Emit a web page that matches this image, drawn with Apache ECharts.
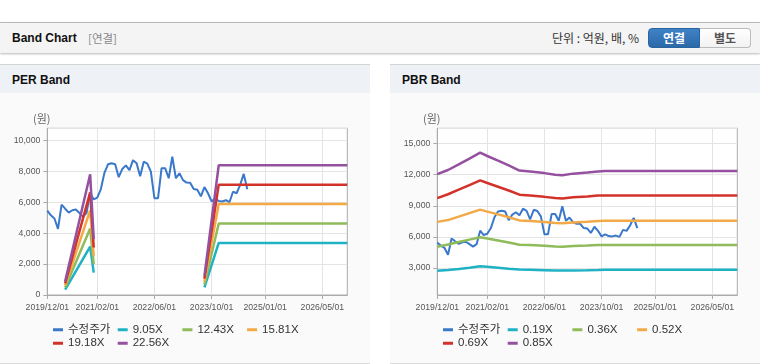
<!DOCTYPE html>
<html><head><meta charset="utf-8">
<script src="https://cdn.jsdelivr.net/npm/echarts@6/dist/echarts.min.js"></script>
<style>
html,body{margin:0;padding:0}
body{width:760px;height:364px;overflow:hidden;background:#fff;position:relative;font-family:'Liberation Sans','Noto Sans CJK KR',sans-serif}
.hdr{position:absolute;left:0;top:22px;width:760px;height:30px;background:#f4f4f4;border-top:1px solid #b8b8b8;box-shadow:0 1px 2px rgba(0,0,0,0.28)}
.t1{position:absolute;left:12px;top:8px;font-size:12px;font-weight:bold;color:#111;line-height:14px}
.t2{position:absolute;left:88px;top:8px;font-size:11.5px;color:#888;line-height:14px;font-family:'Noto Sans CJK KR',sans-serif}
.unit{position:absolute;left:552px;top:8px;font-size:12px;color:#333;line-height:14px;font-family:'Noto Sans CJK KR',sans-serif}
.btn{position:absolute;top:5px;height:18px;line-height:18px;text-align:center;font-size:12px;font-weight:bold;font-family:'Noto Sans CJK KR',sans-serif}
.b1{left:648px;width:52px;background:linear-gradient(#3f82c6,#2c69a9);color:#fff;border:1px solid #2a64a0;border-radius:4px 0 0 4px;box-sizing:border-box;height:20px}
.b2{left:700px;width:51px;background:linear-gradient(#fff,#f2f2f2);color:#555;border:1px solid #bbb;border-left:none;border-radius:0 4px 4px 0;box-sizing:border-box;height:20px}
.panel{position:absolute;top:64px;height:298px;background:#fafafa;border-top:1px solid #d4d4d4;border-bottom:1px solid #dcdcdc}
.ph{position:absolute;left:0;top:0;right:0;height:28px;background:#eef2f7}
.pt{position:absolute;left:12px;top:8px;font-size:12px;font-weight:bold;color:#111;line-height:14px}
#chart{position:absolute;left:0;top:0;width:760px;height:364px}
</style></head>
<body>
<div class="hdr">
  <span class="t1">Band Chart</span><span class="t2">[연결]</span>
  <span class="unit">단위 : 억원, 배, %</span>
  <div class="btn b1">연결</div><div class="btn b2">별도</div>
</div>
<div class="panel" style="left:0;width:370px"><div class="ph"><span class="pt">PER Band</span></div></div>
<div class="panel" style="left:390px;width:370px"><div class="ph"><span class="pt">PBR Band</span></div></div>
<div id="chart"></div>
<script>
// ---------- data ----------
// monthly category axis: 2019/12/01 .. 2026/12/01
const months = [];
for (let k = 0; k < 85; k++) {
  const t = 2019 * 12 + 11 + k;
  const y = Math.floor(t / 12), m = t % 12 + 1;
  months.push(y + '/' + String(m).padStart(2, '0') + '/01');
}
const labelMonths = ['2019/12/01','2021/02/01','2022/06/01','2023/10/01','2025/01/01','2026/05/01'];

// adjusted share price (수정주가), monthly from 2019/12 to 2024/08
const price = [5450,5150,4950,4280,5850,5580,5330,5480,5530,5300,5070,5300,6600,6180,6300,6850,7900,8450,8520,8450,
  7620,8150,8380,8080,8720,8520,7680,8620,8500,7980,6250,6250,8200,8200,7550,8950,7550,7870,7430,7270,
  7260,6850,6800,6380,6980,6580,6050,6250,6080,6050,6130,6000,6680,6580,7120,7830,6840];

// PER band series ([month, value]; null breaks the line)
const perNames = ['9.05X','12.43X','15.81X','19.18X','22.56X'];
const per905  = [['2020/05/01',353],['2020/12/01',3131],['2021/01/01',1448],['2021/02/01',null],['2023/08/01',500],['2023/12/01',3367],['2026/12/01',3367]];
const per1243 = [['2020/05/01',485],['2020/12/01',4300],['2021/01/01',1990],['2021/02/01',null],['2023/08/01',684],['2023/12/01',4624],['2026/12/01',4624]];
const per1581 = [['2020/05/01',617],['2020/12/01',5470],['2021/01/01',2530],['2021/02/01',null],['2023/08/01',870],['2023/12/01',5881],['2026/12/01',5881]];
const per1918 = [['2020/05/01',748],['2020/12/01',6636],['2021/01/01',3070],['2021/02/01',null],['2023/08/01',1055],['2023/12/01',7135],['2026/12/01',7135]];
const per2256 = [['2020/05/01',880],['2020/12/01',7806],['2021/01/01',3610],['2021/02/01',null],['2023/08/01',1240],['2023/12/01',8392],['2026/12/01',8392]];

// PBR band series, values at key months
const pbrNames = ['0.19X','0.36X','0.52X','0.69X','0.85X'];
const pbrMonths = ['2019/12/01','2020/03/01','2020/06/01','2020/09/01','2020/12/01','2021/02/01','2021/05/01','2021/08/01','2021/11/01','2022/02/01','2022/06/01','2022/09/01','2022/11/01','2023/02/01','2023/06/01','2023/09/01','2023/11/01','2026/12/01'];
const pbr019 = [2740,2800,2910,3030,3180,3120,3030,2940,2860,2830,2790,2760,2750,2770,2790,2810,2840,2840];
const pbr036 = [5060,5270,5510,5740,5970,5840,5650,5460,5250,5210,5150,5080,5060,5120,5170,5210,5230,5230];
const pbr052 = [7450,7620,7950,8290,8630,8440,8170,7890,7590,7530,7430,7340,7310,7400,7460,7530,7560,7560];
const pbr069 = [9740,10110,10550,11000,11450,11200,10840,10470,10070,9990,9860,9740,9700,9820,9900,9990,10000,10000];
const pbr085 = [12050,12450,13000,13550,14120,13800,13350,12900,12400,12300,12150,12000,11950,12100,12200,12300,12360,12360];

// ---------- chart ----------
const colors = ['#3a78c9','#1fb2c4','#8fbb5a','#f2aa48','#d3322a','#95519f'];
const labelIdx = labelMonths.map(s => months.indexOf(s));
const showAt = (i) => labelIdx.indexOf(i) >= 0;
const numFmt = v => String(v).replace(/\B(?=(\d{3})+(?!\d))/g, ',');
const tickFont = "'Liberation Sans',sans-serif";
const legFont = "'Liberation Sans','Noto Sans CJK KR',sans-serif";

function xAxis(g) {
  return {
    type: 'category', gridIndex: g, data: months, boundaryGap: false,
    axisLine: { lineStyle: { color: '#aaa' } },
    axisTick: { show: true, length: 4, interval: showAt, lineStyle: { color: '#aaa' } },
    axisLabel: { interval: showAt, showMinLabel: true, showMaxLabel: true, hideOverlap: false, color: '#555', fontSize: 8.7, fontFamily: tickFont, margin: 8 },
    splitLine: { show: true, interval: showAt, lineStyle: { color: '#e4e4e4' } }
  };
}
function yAxis(g, extra) {
  return Object.assign({
    type: 'value', gridIndex: g, name: '(원)', nameLocation: 'end', nameGap: 4,
    nameTextStyle: { color: '#666', fontSize: 11, padding: [0, 11, 0, 0], fontFamily: 'Noto Sans CJK KR' },
    axisLine: { show: true, lineStyle: { color: '#aaa' } },
    axisTick: { show: true, length: 4, lineStyle: { color: '#aaa' } },
    axisLabel: { color: '#555', fontSize: 8.7, fontFamily: tickFont, margin: 7, showMinLabel: true, showMaxLabel: false, formatter: numFmt },
    splitLine: { show: true, lineStyle: { color: '#e4e4e4' } }
  }, extra);
}
function legend(left, names) {
  return {
    left: left, top: 323, width: 262, padding: 0, itemWidth: 10, itemHeight: 3, itemGap: 0, icon: 'rect',
    textStyle: { width: 49.7, lineHeight: 13.5, fontSize: 11.5, color: '#333', fontFamily: legFont },
    data: names
  };
}
function line(name, g, data, color, w) {
  return {
    name: name, type: 'line', xAxisIndex: g, yAxisIndex: g, data: data, showSymbol: false, symbol: 'none',
    lineStyle: { color: color, width: w }, itemStyle: { color: color }, connectNulls: false, animation: false
  };
}
const perData = [per905, per1243, per1581, per1918, per2256];
const pbrData = [pbr019, pbr036, pbr052, pbr069, pbr085];
const series = [line('수정주가', 0, price, colors[0], 2)];
perNames.forEach((n, k) => series.push(line(n, 0, perData[k], colors[k + 1], 2.5)));
series.push(line('수정주가', 1, price, colors[0], 2));
pbrNames.forEach((n, k) => series.push(line(n, 1, pbrMonths.map((mm, j) => [mm, pbrData[k][j]]), colors[k + 1], 2.5)));

const chart = echarts.init(document.getElementById('chart'), null, { renderer: 'canvas' });
chart.setOption({
  animation: false,
  grid: [
    { left: 47.3, top: 128.3, width: 300, height: 166.7, show: true, borderColor: '#aaa', borderWidth: 1, backgroundColor: '#fff' },
    { left: 437.3, top: 128.3, width: 300, height: 166.7, show: true, borderColor: '#aaa', borderWidth: 1, backgroundColor: '#fff' }
  ],
  xAxis: [xAxis(0), xAxis(1)],
  yAxis: [
    yAxis(0, { min: 0, max: 10780, interval: 2000 }),
    yAxis(1, { min: 400, max: 16470, splitNumber: 5, axisLabel: { color: '#555', fontSize: 8.7, fontFamily: tickFont, margin: 7, showMaxLabel: false, showMinLabel: false, formatter: numFmt } })
  ],
  legend: [legend(53, ['수정주가'].concat(perNames)), legend(443, ['수정주가'].concat(pbrNames))],
  series: series
});
</script>
</body></html>
